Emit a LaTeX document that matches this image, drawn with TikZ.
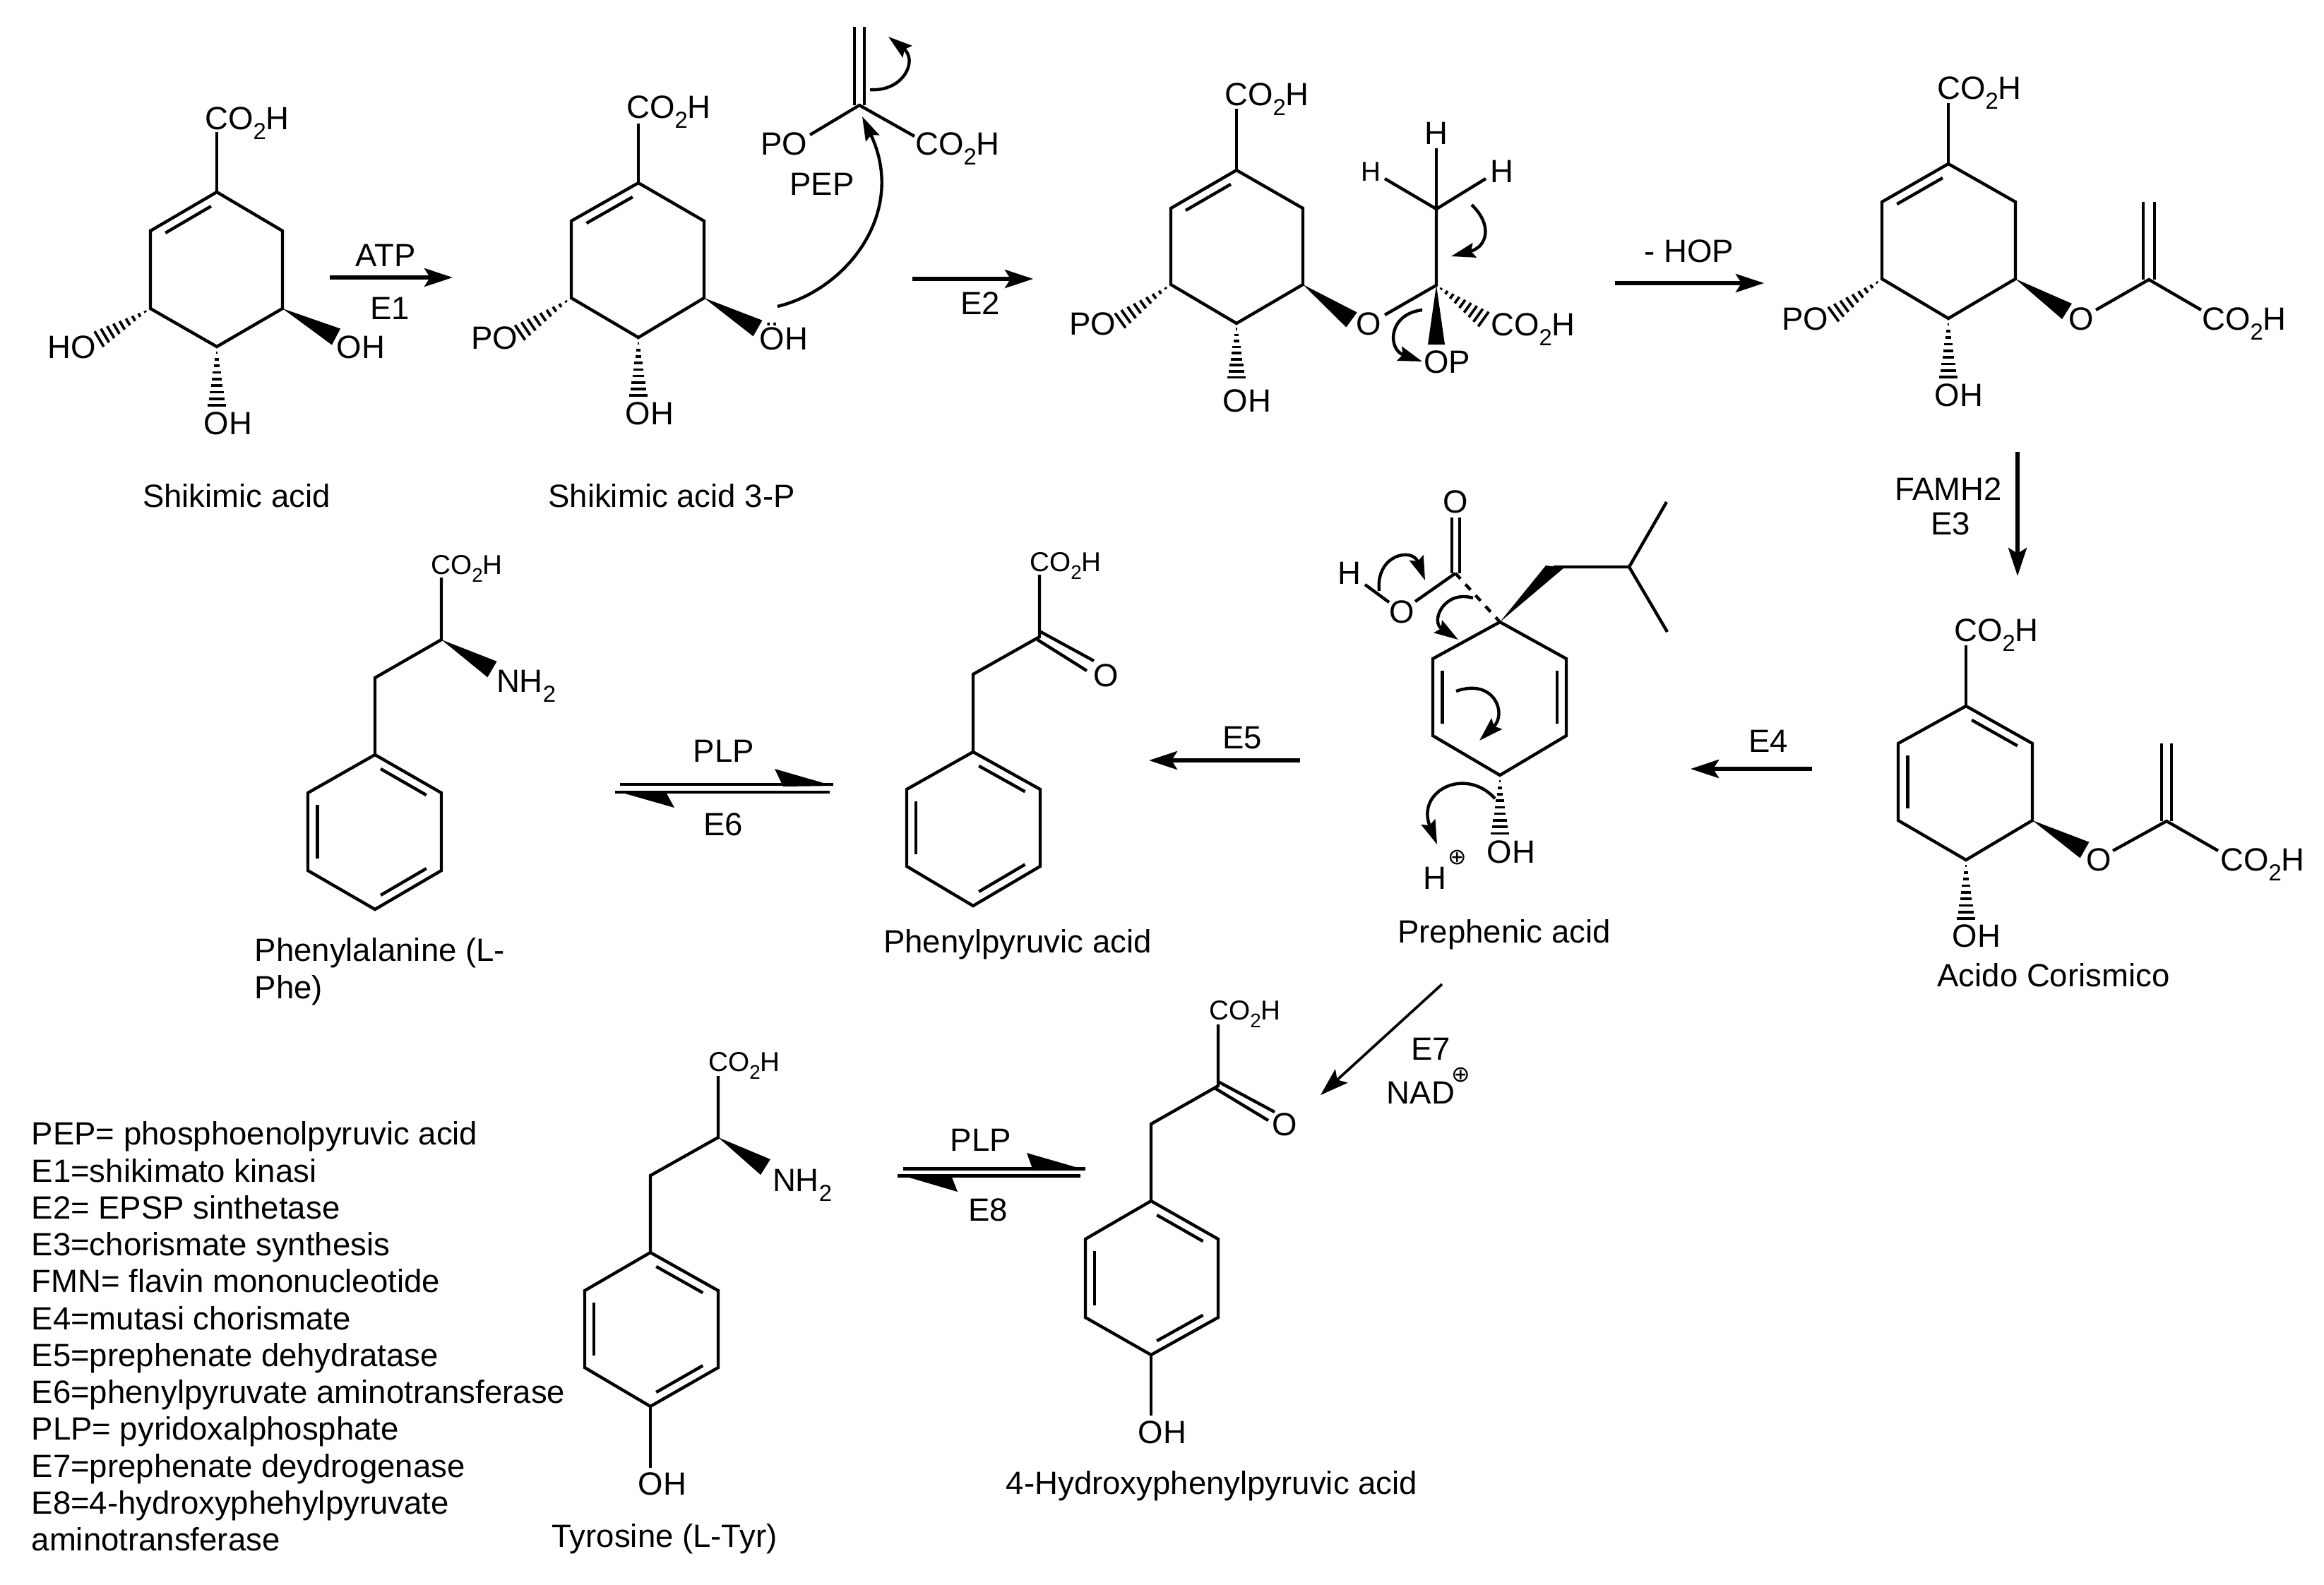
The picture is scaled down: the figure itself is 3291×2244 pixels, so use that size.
\documentclass[tikz,border=0pt]{standalone}
\usepackage{fontspec}
\setmainfont{Liberation Sans}
\newfontfamily\symfont{DejaVu Sans}
\usetikzlibrary{arrows.meta,calc}

\tikzset{
    bond/.style={line width=1.25pt},
    rxn/.style={line width=1.5pt,-{Stealth[length=4mm,width=2.6mm,inset=0.8mm]}},
    thinrxn/.style={line width=1.05pt,-{Stealth[length=4mm,width=2.6mm,inset=0.8mm]}},
    curly/.style={line width=1.25pt,-{Stealth[length=3.4mm,width=2.1mm,inset=0.5mm]}},
    eqline/.style={line width=1.4pt},
    lab/.style={font=\fontsize{12.95}{15}\selectfont,inner sep=0pt},
    slab/.style={font=\fontsize{11}{13}\selectfont,inner sep=0pt},
}

\newcommand{\cooh}{CO\smash{\raisebox{-0.3em}{\scalebox{0.72}{2}}}H}
\newcommand{\nhtwo}{NH\smash{\raisebox{-0.3em}{\scalebox{0.72}{2}}}}
\newcommand{\plusmark}{{\symfont\fontsize{9}{9}\selectfont ⊕}}

% six membered ring: a top, then clockwise
\newcommand{\hexring}[7]{%
    \coordinate (#1a) at #2;
    \coordinate (#1b) at #3;
    \coordinate (#1c) at #4;
    \coordinate (#1d) at #5;
    \coordinate (#1e) at #6;
    \coordinate (#1f) at #7;
    \coordinate (#1o) at ($(#1a)!0.5!(#1d)$);
    \draw[bond] (#1a) -- (#1b) -- (#1c) -- (#1d) -- (#1e) -- (#1f) -- cycle;
}
\newcommand{\innerbond}[3]{%
    \draw[bond] ($($(#1#2)!0.1!(#1#3)$)!0.14!(#1o)$) -- ($($(#1#3)!0.1!(#1#2)$)!0.14!(#1o)$);
}
\newcommand{\wedgebond}[2]{%
    \fill (#1) -- ($(#2)!0.13cm!90:(#1)$) -- ($(#2)!0.13cm!-90:(#1)$) -- cycle;
}
\newcommand{\hashbond}[2]{%
    \foreach \t in {0.1,0.21,...,0.99} {
        \pgfmathsetmacro{\hw}{\t*0.13}
        \coordinate (hp) at ($(#1)!\t!(#2)$);
        \draw[line width=1.05pt] ($(hp)!\hw cm!90:(#1)$) -- ($(hp)!\hw cm!-90:(#1)$);
    }
}

\begin{document}
\begin{tikzpicture}[x=0.01cm,y=-0.01cm]
    \useasboundingbox (0,0) rectangle (3291,2244);

    % Shikimic acid
    \hexring{sk}{(307,272)}{(400,327)}{(400,437)}{(307,491)}{(213,437)}{(213,327)}
    \innerbond{sk}{a}{f}
    \draw[bond] (ska) -- (307,187);
    \coordinate (skho) at (139,481);
    \coordinate (skoh) at (476,477);
    \coordinate (skdn) at (307,576);
    \hashbond{ske}{skho}
    \wedgebond{skc}{skoh}
    \hashbond{skd}{skdn}
    \node[lab] (skco) at (350,168) {\cooh};
    \node[lab] (skl) at (102,492) {HO};
    \node[lab] (skr) at (511,492) {OH};
    \node[lab] (skb) at (323,600) {OH};
    \node[lab] (skname) at (335,702) {Shikimic acid};

    % ATP step
    \coordinate (eas) at (467,393);
    \coordinate (eat) at (641,393);
    \draw[rxn] (eas) -- (eat);
    \node[lab] (atp) at (546,362) {ATP};
    \node[lab] (eone) at (552,437) {E1};

    % Shikimic acid 3-P
    \hexring{sp}{(904,259)}{(997,313)}{(997,422)}{(904,478)}{(809,422)}{(809,313)}
    \innerbond{sp}{a}{f}
    \draw[bond] (spa) -- (904,175);
    \coordinate (sppo) at (735,472);
    \coordinate (spoh) at (1073,465);
    \coordinate (spdn) at (904,562);
    \hashbond{spe}{sppo}
    \wedgebond{spc}{spoh}
    \hashbond{spd}{spdn}
    \node[lab] (spco) at (947,152) {\cooh};
    \node[lab] (spl) at (700,479) {PO};
    \node[lab] (spr) at (1110,477) {ÖH};
    \node[lab] (spb) at (920,586) {OH};
    \node[lab] (spname) at (951,702) {Shikimic acid 3-P};

    % PEP
    \draw[bond] (1210,149) -- (1210,38) (1224,149) -- (1224,38);
    \draw[bond] (1147,191) -- (1217,149) -- (1295,193);
    \node[lab] (pepl) at (1110,204) {PO};
    \node[lab] (pepr) at (1356,204) {\cooh};
    \node[lab] (pep) at (1164,261) {PEP};
    \draw[curly] (1101,434) .. controls (1200,410) and (1285,300) .. (1221,165);
    \draw[curly] (1232,127) .. controls (1280,130) and (1300,85) .. (1258,52);

    % E2 step
    \coordinate (ebs) at (1292,395);
    \coordinate (ebt) at (1463,395);
    \draw[rxn] (ebs) -- (ebt);
    \node[lab] (etwo) at (1388,430) {E2};

    % Intermediate with OP
    \hexring{im}{(1751,241)}{(1845,295)}{(1845,403)}{(1751,458)}{(1658,403)}{(1658,295)}
    \innerbond{im}{a}{f}
    \draw[bond] (ima) -- (1751,154);
    \coordinate (impo) at (1585,455);
    \coordinate (imo) at (1914,453);
    \coordinate (imdn) at (1751,536);
    \coordinate (imq) at (2034,404);
    \coordinate (imco) at (2102,453);
    \hashbond{ime}{impo}
    \wedgebond{imc}{imo}
    \hashbond{imd}{imdn}
    \hashbond{imq}{imco}
    \fill (imq) -- (2046,488) -- (2022,488) -- cycle;
    \draw[bond] (1961,446) -- (imq) -- (2034,296);
    \draw[bond] (2034,210) -- (2034,296);
    \draw[bond] (1961,253) -- (2034,296) -- (2104,253);
    \node[lab] (imtop) at (1794,134) {\cooh};
    \node[lab] (iml) at (1547,459) {PO};
    \node[lab] (imox) at (1938,459) {O};
    \node[lab] (imb) at (1766,568) {OH};
    \node[lab] (imh) at (2034,189) {H};
    \node[slab] (imhl) at (1941,243) {H};
    \node[lab] (imhr) at (2127,243) {H};
    \node[lab] (imr) at (2171,460) {\cooh};
    \node[lab] (imop) at (2049,513) {OP};
    \draw[curly] (2084,290) .. controls (2115,320) and (2105,350) .. (2055,363);
    \draw[curly] (2014,439) .. controls (1965,445) and (1965,495) .. (2014,512);

    % HOP step
    \coordinate (hos) at (2287,401);
    \coordinate (hot) at (2498,401);
    \draw[rxn] (hos) -- (hot);
    \node[lab] (hop) at (2392,356) {- HOP};

    % EPSP
    \hexring{ep}{(2759,232)}{(2854,286)}{(2854,395)}{(2759,451)}{(2665,395)}{(2665,286)}
    \innerbond{ep}{a}{f}
    \draw[bond] (epa) -- (2759,146);
    \coordinate (eppo) at (2595,446);
    \coordinate (epo) at (2927,441);
    \coordinate (epdn) at (2759,536);
    \hashbond{epe}{eppo}
    \wedgebond{epc}{epo}
    \hashbond{epd}{epdn}
    \draw[bond] (2968,439) -- (3043,396) -- (3117,439);
    \draw[bond] (3035,396) -- (3035,286) (3051,396) -- (3051,286);
    \node[lab] (eptop) at (2803,125) {\cooh};
    \node[lab] (epl) at (2556,452) {PO};
    \node[lab] (epb) at (2774,560) {OH};
    \node[lab] (epox) at (2947,452) {O};
    \node[lab] (epr) at (3178,452) {\cooh};

    % E3 step
    \coordinate (ecs) at (2857,640);
    \coordinate (ect) at (2857,816);
    \draw[rxn] (ecs) -- (ect);
    \node[lab] (famh) at (2759,693) {FAMH2};
    \node[lab] (ethree) at (2762,742) {E3};

    % Acido Corismico
    \hexring{ch}{(2784,1000)}{(2878,1053)}{(2878,1162)}{(2784,1218)}{(2688,1162)}{(2688,1053)}
    \innerbond{ch}{a}{b}
    \innerbond{ch}{e}{f}
    \draw[bond] (cha) -- (2784,914);
    \coordinate (cho) at (2952,1204);
    \coordinate (chdn) at (2784,1303);
    \wedgebond{chc}{cho}
    \hashbond{chd}{chdn}
    \draw[bond] (2992,1205) -- (3068,1163) -- (3141,1205);
    \draw[bond] (3061,1163) -- (3061,1053) (3075,1163) -- (3075,1053);
    \node[lab] (chtop) at (2827,893) {\cooh};
    \node[lab] (chox) at (2972,1218) {O};
    \node[lab] (chr) at (3204,1218) {\cooh};
    \node[lab] (chb) at (2799,1326) {OH};
    \node[lab] (chname) at (2908,1381) {Acido Corismico};

    % E4 step
    \coordinate (eds) at (2566,1089);
    \coordinate (edt) at (2394,1089);
    \draw[rxn] (eds) -- (edt);
    \node[lab] (efour) at (2504,1050) {E4};

    % Prephenic acid
    \hexring{pr}{(2124,881)}{(2218,933)}{(2218,1042)}{(2124,1098)}{(2029,1042)}{(2029,933)}
    \innerbond{pr}{b}{c}
    \innerbond{pr}{e}{f}
    \coordinate (prdn) at (2124,1182);
    \hashbond{prd}{prdn}
    \fill (pra) -- (2189,801) -- (2215,804) -- cycle;
    \draw[bond] (2200,803) -- (2307,803) -- (2360,711);
    \draw[bond] (2307,803) -- (2361,895);
    \draw[bond, dashed] (2061,812) -- (pra);
    \draw[bond] (2056,812) -- (2056,733) (2067,812) -- (2067,733);
    \draw[bond] (2004,852) -- (2061,812);
    \draw[bond] (1933,828) -- (1967,853);
    \node[lab] (prox) at (2061,711) {O};
    \node[lab] (prsg) at (1985,867) {O};
    \node[lab] (prh) at (1911,812) {H};
    \node[lab] (prb) at (2140,1207) {OH};
    \node[lab] (prp) at (2032,1244) {H};
    \node[inner sep=0pt] (prplus) at (2064,1215) {\plusmark};
    \node[lab] (prname) at (2130,1324) {Prephenic acid};
    \draw[curly] (1953,837) .. controls (1948,785) and (2000,775) .. (2018,822);
    \draw[curly] (2086,847) .. controls (2045,835) and (2025,880) .. (2065,906);
    \draw[curly] (2062,979) .. controls (2115,960) and (2135,1010) .. (2095,1049);
    \draw[curly] (2117,1131) .. controls (2075,1085) and (2005,1120) .. (2035,1196);

    % E5 step
    \coordinate (ees) at (1841,1077);
    \coordinate (eet) at (1627,1077);
    \draw[rxn] (ees) -- (eet);
    \node[lab] (efive) at (1759,1045) {E5};

    % Phenylpyruvic acid
    \hexring{pa}{(1378,1065)}{(1473,1118)}{(1473,1227)}{(1378,1283)}{(1284,1227)}{(1284,1118)}
    \innerbond{pa}{a}{b}
    \innerbond{pa}{c}{d}
    \innerbond{pa}{e}{f}
    \draw[bond] (paa) -- (1378,955) -- (1472,902) -- (1472,814);
    \draw[bond] (1472,894) -- (1549,936) (1469,906) -- (1539,950);
    \node[slab] (patop) at (1509,796) {\cooh};
    \node[lab] (paox) at (1566,957) {O};
    \node[lab] (paname) at (1441,1338) {Phenylpyruvic acid};

    % PLP equilibrium, phenylalanine side
    \coordinate (eqau) at (878,1111);
    \coordinate (eqbu) at (1180,1111);
    \coordinate (eqal) at (1175,1122);
    \coordinate (eqbl) at (871,1122);
    \draw[eqline] (eqau) -- (eqbu);
    \draw[eqline] (eqal) -- (eqbl);
    \fill (1180,1113) -- (1097,1089) -- (1109,1114) -- cycle;
    \fill (871,1120) -- (955,1144) -- (943,1122) -- cycle;
    \node[lab] (plpa) at (1025,1064) {PLP};
    \node[lab] (esix) at (1024,1168) {E6};

    % Phenylalanine
    \hexring{ph}{(531,1069)}{(625,1123)}{(625,1233)}{(531,1288)}{(436,1233)}{(436,1123)}
    \innerbond{ph}{a}{b}
    \innerbond{ph}{c}{d}
    \innerbond{ph}{e}{f}
    \coordinate (phch) at (625,906);
    \coordinate (phn) at (697,948);
    \draw[bond] (pha) -- (531,960) -- (phch) -- (625,818);
    \wedgebond{phch}{phn}
    \node[slab] (phtop) at (661,800) {\cooh};
    \node[lab] (phnh) at (745,965) {\nhtwo};
    \node[lab,anchor=north west,align=left] (phname) at (360,1328) {Phenylalanine (L-\\Phe)};

    % E7 step
    \coordinate (egs) at (2042,1394);
    \coordinate (egt) at (1870,1551);
    \draw[thinrxn] (egs) -- (egt);
    \node[lab] (eseven) at (2026,1486) {E7};
    \node[lab] (nad) at (2012,1548) {NAD};
    \node[inner sep=0pt] (nadplus) at (2069,1523) {\plusmark};

    % 4-Hydroxyphenylpyruvic acid
    \hexring{hp}{(1630,1701)}{(1725,1755)}{(1725,1866)}{(1630,1919)}{(1537,1866)}{(1537,1755)}
    \innerbond{hp}{a}{b}
    \innerbond{hp}{c}{d}
    \innerbond{hp}{e}{f}
    \draw[bond] (hpa) -- (1630,1592) -- (1725,1538) -- (1725,1451);
    \draw[bond] (1725,1532) -- (1805,1575) (1720,1541) -- (1796,1587);
    \draw[bond] (hpd) -- (1630,2005);
    \node[slab] (hptop) at (1763,1431) {\cooh};
    \node[lab] (hpox) at (1819,1593) {O};
    \node[lab] (hpb) at (1646,2029) {OH};
    \node[lab] (hpname) at (1716,2105) {4-Hydroxyphenylpyruvic acid};

    % PLP equilibrium, tyrosine side
    \coordinate (eqcu) at (1279,1655);
    \coordinate (eqdu) at (1537,1655);
    \coordinate (eqcl) at (1530,1665);
    \coordinate (eqdl) at (1271,1665);
    \draw[eqline] (eqcu) -- (eqdu);
    \draw[eqline] (eqcl) -- (eqdl);
    \fill (1537,1657) -- (1454,1633) -- (1463,1658) -- cycle;
    \fill (1271,1663) -- (1356,1688) -- (1347,1665) -- cycle;
    \node[lab] (plpb) at (1389,1615) {PLP};
    \node[lab] (eeight) at (1399,1714) {E8};

    % Tyrosine
    \hexring{ty}{(921,1774)}{(1017,1828)}{(1017,1937)}{(921,1992)}{(828,1937)}{(828,1828)}
    \innerbond{ty}{a}{b}
    \innerbond{ty}{c}{d}
    \innerbond{ty}{e}{f}
    \coordinate (tych) at (1017,1611);
    \coordinate (tyn) at (1084,1653);
    \draw[bond] (tya) -- (921,1665) -- (tych) -- (1017,1524);
    \draw[bond] (tyd) -- (921,2079);
    \wedgebond{tych}{tyn}
    \node[slab] (tytop) at (1054,1504) {\cooh};
    \node[lab] (tynh) at (1136,1672) {\nhtwo};
    \node[lab] (tyb) at (938,2102) {OH};
    \node[lab] (tyname) at (941,2180) {Tyrosine (L-Tyr)};

    % Legend
    \node[lab,anchor=north west,align=left,font=\fontsize{12.95}{14.86}\selectfont] (legend) at (44,1588) {%
        PEP= phosphoenolpyruvic acid\\
        E1=shikimato kinasi\\
        E2= EPSP sinthetase\\
        E3=chorismate synthesis\\
        FMN= flavin mononucleotide\\
        E4=mutasi chorismate\\
        E5=prephenate dehydratase\\
        E6=phenylpyruvate aminotransferase\\
        PLP= pyridoxalphosphate\\
        E7=prephenate deydrogenase\\
        E8=4-hydroxyphehylpyruvate\\
        aminotransferase};
\end{tikzpicture}
\end{document}
